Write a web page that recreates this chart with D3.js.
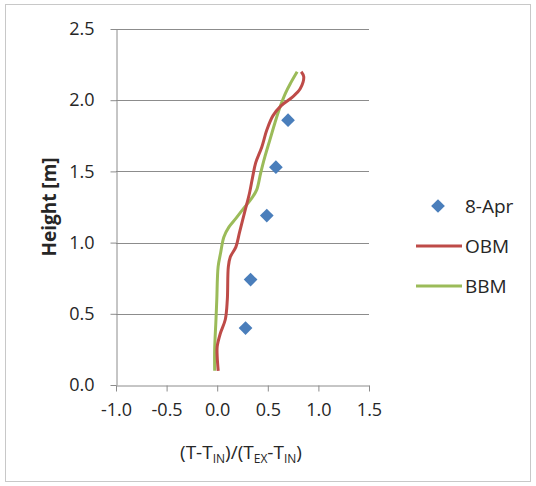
<!DOCTYPE html>
<html>
<head>
<meta charset="utf-8">
<script src="https://cdn.jsdelivr.net/npm/d3@7"></script>
<style>
  html, body { margin: 0; padding: 0; background: #fff; }
  svg text { font-family: "Open Sans", "DejaVu Sans", sans-serif; fill: #262626; }
</style>
</head>
<body>
<svg id="chart" width="536" height="486"></svg>
<script>
// Measured points (8-Apr): normalised temperature vs height
const measX = [0.70, 0.58, 0.49, 0.33, 0.28];
const measY = [1.86, 1.53, 1.19, 0.74, 0.40];

// OBM model profile
const obmX = [0.01, 0.00, 0.00, 0.03, 0.08, 0.10, 0.11, 0.13, 0.185, 0.22, 0.27, 0.32, 0.35, 0.38, 0.44, 0.49, 0.55, 0.63, 0.74, 0.82, 0.855, 0.83];
const obmY = [0.10, 0.20, 0.27, 0.36, 0.46, 0.60, 0.83, 0.90, 0.97, 1.07, 1.21, 1.35, 1.46, 1.56, 1.67, 1.79, 1.89, 1.96, 2.02, 2.08, 2.165, 2.20];

// BBM model profile
const bbmX = [-0.025, -0.025, -0.012, -0.004, 0.009, 0.033, 0.066, 0.117, 0.185, 0.25, 0.34, 0.39, 0.43, 0.47, 0.52, 0.57, 0.62, 0.675, 0.725, 0.79];
const bbmY = [0.10, 0.25, 0.46, 0.60, 0.83, 0.925, 1.04, 1.11, 1.17, 1.23, 1.31, 1.37, 1.49, 1.60, 1.72, 1.84, 1.95, 2.05, 2.12, 2.20];

const xTicks = [-1.0, -0.5, 0.0, 0.5, 1.0, 1.5];
const yTicks = [0.0, 0.5, 1.0, 1.5, 2.0, 2.5];

const legendNames = ["8-Apr", "OBM", "BBM"];
const colors = { meas: "#4A7EBB", obm: "#BE4B48", bbm: "#9BBB59" };

const svg = d3.select("#chart");

// outer chart frame
svg.append("rect")
  .attr("x", 5.5).attr("y", 4.5).attr("width", 525).attr("height", 477)
  .attr("fill", "#fff").attr("stroke", "#c8c8c8").attr("stroke-width", 1);

const x = d3.scaleLinear().domain([-1.0, 1.5]).range([116, 369]);
const y = d3.scaleLinear().domain([0, 2.5]).range([385, 29]);

// one decimal, plain hyphen for negatives
const fmt = d => d3.format(".1f")(d).replace("\u2212", "-");

// horizontal gridlines
svg.append("g")
  .selectAll("line")
  .data(yTicks.filter(t => t > 0))
  .join("line")
  .attr("x1", x(-1.0)).attr("x2", x(1.5))
  .attr("y1", d => Math.round(y(d)) + 0.5).attr("y2", d => Math.round(y(d)) + 0.5)
  .attr("stroke", "#8c8c8c").attr("stroke-width", 1);

// x axis
const xAxis = svg.append("g")
  .attr("transform", `translate(0,${Math.round(y(0)) + 0.5})`)
  .call(d3.axisBottom(x).tickValues(xTicks).tickFormat(fmt).tickSizeInner(6).tickSizeOuter(0).tickPadding(12));
xAxis.select(".domain").attr("stroke", "#8c8c8c");
xAxis.selectAll(".tick line").attr("stroke", "#8c8c8c");
xAxis.selectAll(".tick text").attr("font-size", 18).attr("fill", "#262626")
  .attr("font-family", "'Open Sans', sans-serif");

// y axis
const yAxis = svg.append("g")
  .attr("transform", `translate(${Math.round(x(-1.0)) + 0.5},0)`)
  .call(d3.axisLeft(y).tickValues(yTicks).tickFormat(fmt).tickSizeInner(6).tickSizeOuter(0).tickPadding(16));
yAxis.select(".domain").attr("stroke", "#8c8c8c");
yAxis.selectAll(".tick line").attr("stroke", "#8c8c8c");
yAxis.selectAll(".tick text").attr("font-size", 18).attr("fill", "#262626")
  .attr("font-family", "'Open Sans', sans-serif");

// model profiles
const line = d3.line()
  .x(d => x(d[0])).y(d => y(d[1]))
  .curve(d3.curveCatmullRom.alpha(0.5));

const bbmData = bbmX.map((v, i) => [v, bbmY[i]]);
const obmData = obmX.map((v, i) => [v, obmY[i]]);

svg.append("path").datum(bbmData)
  .attr("d", line).attr("fill", "none")
  .attr("stroke", colors.bbm).attr("stroke-width", 3).attr("stroke-linejoin", "round");
svg.append("path").datum(obmData)
  .attr("d", line).attr("fill", "none")
  .attr("stroke", colors.obm).attr("stroke-width", 3).attr("stroke-linejoin", "round");

// measured points as diamonds
const diamond = d3.symbol().type(d3.symbolDiamond2).size(120);
svg.append("g")
  .selectAll("path")
  .data(measX.map((v, i) => [v, measY[i]]))
  .join("path")
  .attr("transform", d => `translate(${x(d[0])},${y(d[1])})`)
  .attr("d", diamond)
  .attr("fill", colors.meas);

// axis titles
svg.append("text")
  .attr("transform", "translate(56,207) rotate(-90)")
  .attr("text-anchor", "middle")
  .attr("font-size", 19).attr("font-weight", "bold")
  .text("Height [m]");

const xt = svg.append("text")
  .attr("x", 241).attr("y", 459)
  .attr("text-anchor", "middle")
  .attr("font-size", 19);
xt.append("tspan").text("(T-T");
xt.append("tspan").attr("font-size", 12).attr("dy", 4).text("IN");
xt.append("tspan").attr("dy", -4).text(")/(T");
xt.append("tspan").attr("font-size", 12).attr("dy", 4).text("EX");
xt.append("tspan").attr("dy", -4).text("-T");
xt.append("tspan").attr("font-size", 12).attr("dy", 4).text("IN");
xt.append("tspan").attr("dy", -4).text(")");

// legend
const lg = svg.append("g");
lg.append("path")
  .attr("transform", "translate(438,206)")
  .attr("d", diamond).attr("fill", colors.meas);
lg.append("line").attr("x1", 416).attr("x2", 462).attr("y1", 246).attr("y2", 246)
  .attr("stroke", colors.obm).attr("stroke-width", 3);
lg.append("line").attr("x1", 416).attr("x2", 462).attr("y1", 286).attr("y2", 286)
  .attr("stroke", colors.bbm).attr("stroke-width", 3);
lg.selectAll("text.leg")
  .data(legendNames)
  .join("text")
  .attr("class", "leg")
  .attr("x", 465)
  .attr("y", (d, i) => 206 + i * 40 + 7)
  .attr("font-size", 19)
  .text(d => d);
</script>
</body>
</html>
